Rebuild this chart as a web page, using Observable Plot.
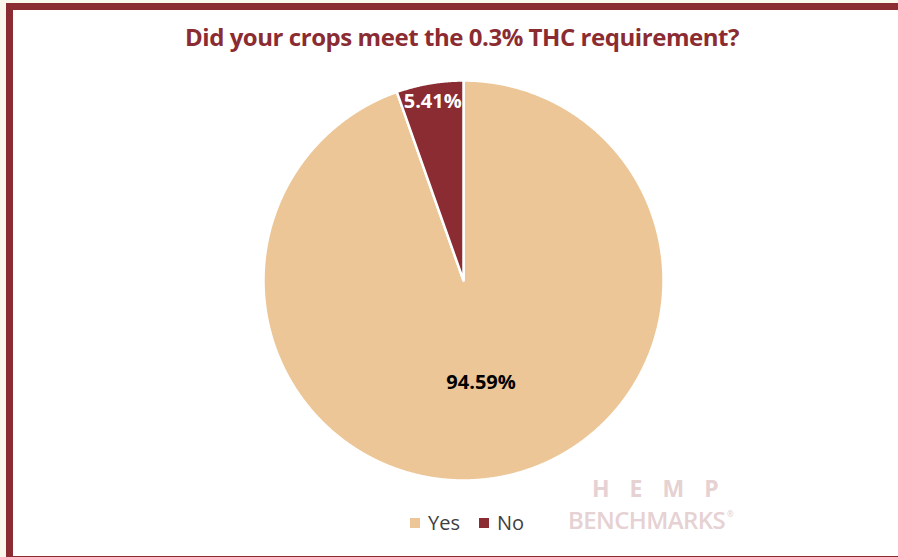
<!DOCTYPE html>
<html>
<head>
<meta charset="utf-8">
<script src="https://cdn.jsdelivr.net/npm/d3@7"></script>
<script src="https://cdn.jsdelivr.net/npm/@observablehq/plot@0.6"></script>
<style>
  html, body { margin: 0; padding: 0; background: #faf7ec; width: 898px; height: 557px; overflow: hidden; }
  #frame { position: absolute; left: 6px; top: 3px; width: 920px; height: 560px; border: 7px solid #8b2c32; background: #fff; box-sizing: border-box; }
  #title { position: absolute; left: 112px; width: 700px; top: 20px; text-align: center; font-family: "Open Sans", sans-serif; font-weight: 700; font-size: 24px; color: #8b2c32; letter-spacing: -0.45px; }
  #chart { position: absolute; left: 243px; top: 60px; }
  #legend { position: absolute; left: 410px; top: 509px; font-family: "Open Sans", sans-serif; font-size: 20px; color: #404040; display: flex; align-items: center; }
  .sw { display: inline-block; width: 10px; height: 10px; margin-right: 8px; }
  .item { display: flex; align-items: center; margin-right: 19px; }
  #logo { position: absolute; left: 568px; top: 474px; font-family: "Open Sans", sans-serif; color: #e6d1d3; }
  #hemp { font-weight: 700; font-size: 23px; letter-spacing: 20px; margin-left: 24px; line-height: 28px; }
  #bench { font-weight: 600; font-size: 24px; line-height: 24px; letter-spacing: -0.6px; }
  #bench sup { font-size: 8px; vertical-align: 12px; margin-left: 2px; }
</style>
</head>
<body>
<div id="frame"></div>
<div id="title">Did your crops meet the 0.3% THC requirement?</div>
<div id="chart"></div>
<div id="legend"></div>
<div id="logo"><div id="hemp">HEMP</div><div id="bench">BENCHMARKS<sup>®</sup></div></div>
<script>
const categories = ["Yes", "No"];
const values = [94.59, 5.41];
const labels = ["94.59%", "5.41%"];
const colors = ["#ecc696", "#8b2c32"];
const labelColors = ["#000000", "#ffffff"];
const labelRadius = [0.52, 0.91];

const data = categories.map((c, i) => ({category: c, value: values[i], label: labels[i]}));
const arcs = d3.pie().sort(null).value(d => d.value)(data);

// polygon points for each slice, in unit-circle coordinates (y up)
const pts = [];
arcs.forEach((a, i) => {
  const cat = categories[i];
  pts.push({category: cat, x: 0, y: 0});
  const n = Math.max(2, Math.ceil((a.endAngle - a.startAngle) / 0.004));
  for (let k = 0; k <= n; k++) {
    const t = a.startAngle + (a.endAngle - a.startAngle) * k / n;
    pts.push({category: cat, x: Math.sin(t), y: Math.cos(t)});
  }
  pts.push({category: cat, x: 0, y: 0});
});

const labelData = arcs.map((a, i) => {
  const m = (a.startAngle + a.endAngle) / 2;
  return {label: labels[i], x: labelRadius[i] * Math.sin(m), y: labelRadius[i] * Math.cos(m), color: labelColors[i]};
});

const plot = Plot.plot({
  width: 440,
  height: 440,
  margin: 20,
  x: {domain: [-1, 1], axis: null},
  y: {domain: [-1, 1], axis: null},
  style: {background: "transparent", overflow: "visible"},
  marks: [
    ...categories.map((c, i) => Plot.line(pts.filter(p => p.category === c), {
      x: "x", y: "y", fill: colors[i], stroke: "white", strokeWidth: 2.5, strokeLinejoin: "round", curve: "linear"
    })),
    Plot.text(labelData, {
      x: "x", y: "y", text: "label", fill: "color",
      fontFamily: "Open Sans, sans-serif", fontWeight: 700, fontSize: 20, letterSpacing: -0.3
    })
  ]
});
document.getElementById("chart").appendChild(plot);

const legend = document.getElementById("legend");
categories.forEach((c, i) => {
  const it = document.createElement("div");
  it.className = "item";
  it.innerHTML = `<span class="sw" style="background:${colors[i]}"></span><span>${c}</span>`;
  legend.appendChild(it);
});
</script>
</body>
</html>
